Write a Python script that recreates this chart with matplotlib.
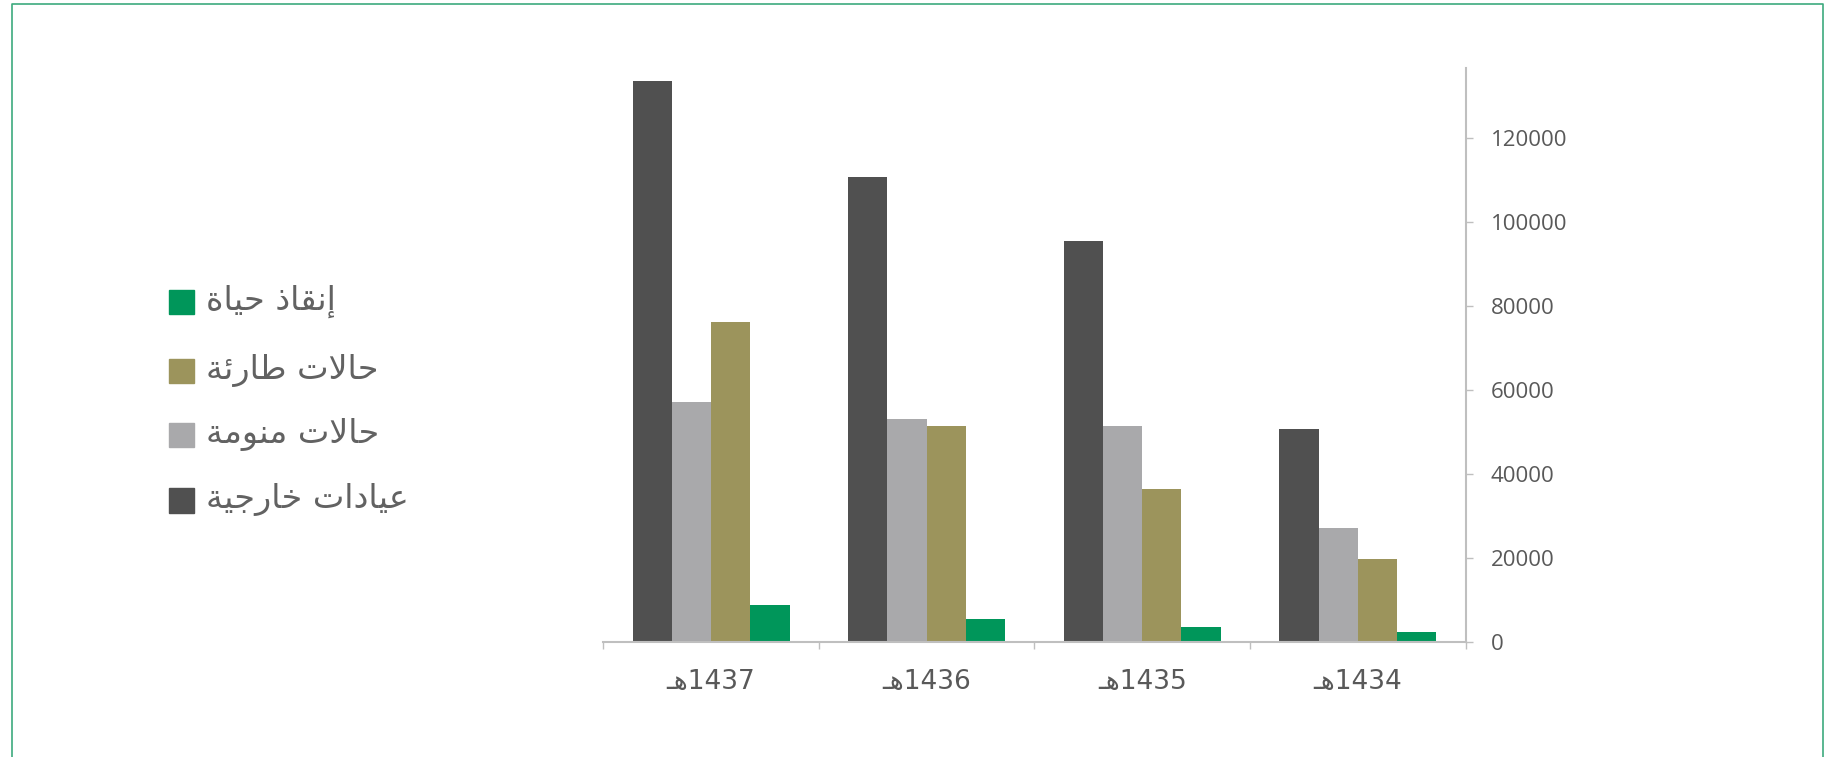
import matplotlib.pyplot as plt
import numpy as np
from matplotlib.lines import Line2D
from matplotlib.patches import Rectangle

# data (left to right as drawn)
years = ['1437', '1436', '1435', '1434']
outpatient = [133700, 110900, 95600, 50600]   # عيادات خارجية
inpatient = [57200, 53100, 51400, 27200]      # حالات منومة
emergency = [76100, 51400, 36400, 19800]      # حالات طارئة
lifesaving = [8700, 5400, 3400, 2250]         # إنقاذ حياة

series_names = ['عيادات خارجية', 'حالات منومة', 'حالات طارئة', 'إنقاذ حياة']
colors = ['#505050', '#a9a9ab', '#9c945c', '#00965a']
y_ticks = [0, 20000, 40000, 60000, 80000, 100000, 120000]

# arabic shaping by hand (matplotlib has no bidi / shaping)
FORMS = {
    'ا': ('\uFE8D', '\uFE8E', None, None),
    'إ': ('\uFE87', '\uFE88', None, None),
    'ة': ('\uFE93', '\uFE94', None, None),
    'ت': ('\uFE95', '\uFE96', '\uFE97', '\uFE98'),
    'ج': ('\uFE9D', '\uFE9E', '\uFE9F', '\uFEA0'),
    'ح': ('\uFEA1', '\uFEA2', '\uFEA3', '\uFEA4'),
    'خ': ('\uFEA5', '\uFEA6', '\uFEA7', '\uFEA8'),
    'د': ('\uFEA9', '\uFEAA', None, None),
    'ذ': ('\uFEAB', '\uFEAC', None, None),
    'ر': ('\uFEAD', '\uFEAE', None, None),
    'ط': ('\uFEC1', '\uFEC2', '\uFEC3', '\uFEC4'),
    'ع': ('\uFEC9', '\uFECA', '\uFECB', '\uFECC'),
    'ق': ('\uFED5', '\uFED6', '\uFED7', '\uFED8'),
    'ل': ('\uFEDD', '\uFEDE', '\uFEDF', '\uFEE0'),
    'م': ('\uFEE1', '\uFEE2', '\uFEE3', '\uFEE4'),
    'ن': ('\uFEE5', '\uFEE6', '\uFEE7', '\uFEE8'),
    'ه': ('\uFEE9', '\uFEEA', '\uFEEB', '\uFEEC'),
    'و': ('\uFEED', '\uFEEE', None, None),
    'ي': ('\uFEF1', '\uFEF2', '\uFEF3', '\uFEF4'),
    'ئ': ('\uFE89', '\uFE8A', '\uFE8B', '\uFE8C'),
    'ـ': ('ـ', 'ـ', 'ـ', 'ـ'),
}
LAM_ALEF = {'ا': ('\uFEFB', '\uFEFC'), 'إ': ('\uFEF9', '\uFEFA')}


def shape(text):
    chars = []
    i = 0
    while i < len(text):
        if text[i] == 'ل' and i + 1 < len(text) and text[i + 1] in LAM_ALEF:
            chars.append(('LA', text[i + 1]))
            i += 2
        else:
            chars.append(text[i])
            i += 1

    def joins(c):
        return isinstance(c, tuple) or c in FORMS

    def joins_left(c):
        return (not isinstance(c, tuple)) and c in FORMS and FORMS[c][2] is not None

    out = []
    for k, c in enumerate(chars):
        prev = chars[k - 1] if k > 0 else None
        nxt = chars[k + 1] if k + 1 < len(chars) else None
        p = prev is not None and joins_left(prev) and joins(c)
        if isinstance(c, tuple):
            out.append(LAM_ALEF[c[1]][1 if p else 0])
            continue
        if c not in FORMS:
            out.append(c)
            continue
        n = nxt is not None and joins(nxt) and joins_left(c)
        iso, fin, ini, med = FORMS[c]
        out.append(med if (p and n) else fin if p else ini if n else iso)
    return ''.join(reversed(out))


W, H = 1825, 757
fig = plt.figure(figsize=(W / 100, H / 100), dpi=100)
ax = fig.add_axes([603.3 / W, 1 - 641.7 / H, 862.3 / W, 573.4 / H])

x = np.arange(len(years))
w = 0.182
data = [outpatient, inpatient, emergency, lifesaving]
for i, (vals, c) in enumerate(zip(data, colors)):
    ax.bar(x + (i - 1.5) * w, vals, w, color=c, edgecolor='none')

ax.set_xlim(-0.5, len(years) - 0.5)
ax.set_ylim(0, 136700)

axis_col = '#bfbfbf'
text_col = '#595959'
for s in ['left', 'top']:
    ax.spines[s].set_visible(False)
ax.spines['right'].set_color(axis_col)
ax.spines['bottom'].set_color(axis_col)
ax.spines['right'].set_linewidth(1.5)
ax.spines['bottom'].set_linewidth(1.5)

ax.yaxis.tick_right()
ax.set_yticks(y_ticks)
ax.set_yticklabels([str(v) for v in y_ticks])
ax.tick_params(axis='y', length=5, width=1, color=axis_col, pad=13,
               labelsize=16, labelcolor=text_col)
for lab in ax.get_yticklabels():
    lab.set_family(['Open Sans', 'DejaVu Sans'])

# boundaries as major ticks, names on minor ticks
ax.set_xticks(np.arange(len(years) + 1) - 0.5)
ax.set_xticklabels([])
ax.tick_params(axis='x', which='major', length=5, width=1, color=axis_col)
ax.set_xticks(x, minor=True)
ax.set_xticklabels([shape('هـ') + y for y in years], minor=True)
ax.tick_params(axis='x', which='minor', length=0, pad=20,
               labelsize=19, labelcolor=text_col)
for lab in ax.get_xticklabels(minor=True):
    lab.set_family(['Liberation Sans Narrow', 'DejaVu Sans'])

# legend, drawn by hand at the left
row_y = [302, 371.3, 435.3, 500.5]
order = [3, 2, 1, 0]
for ry, k in zip(row_y, order):
    fig.add_artist(Rectangle((169 / W, 1 - (ry + 12) / H), 24.5 / W, 24.5 / H,
                             transform=fig.transFigure, color=colors[k]))
    fig.text(206 / W, 1 - (ry - 1) / H, shape(series_names[k]), ha='left',
             va='center', fontsize=24, color='#626262', family=['DejaVu Sans'])

# green frame
bc = '#3daa7e'
fig.add_artist(Line2D([11.7 / W, 11.7 / W, 1823.3 / W, 1823.3 / W],
                      [0, 1 - 4 / H, 1 - 4 / H, 0],
                      transform=fig.transFigure, color=bc, lw=1.2))

fig.savefig('out.png', dpi=100)
